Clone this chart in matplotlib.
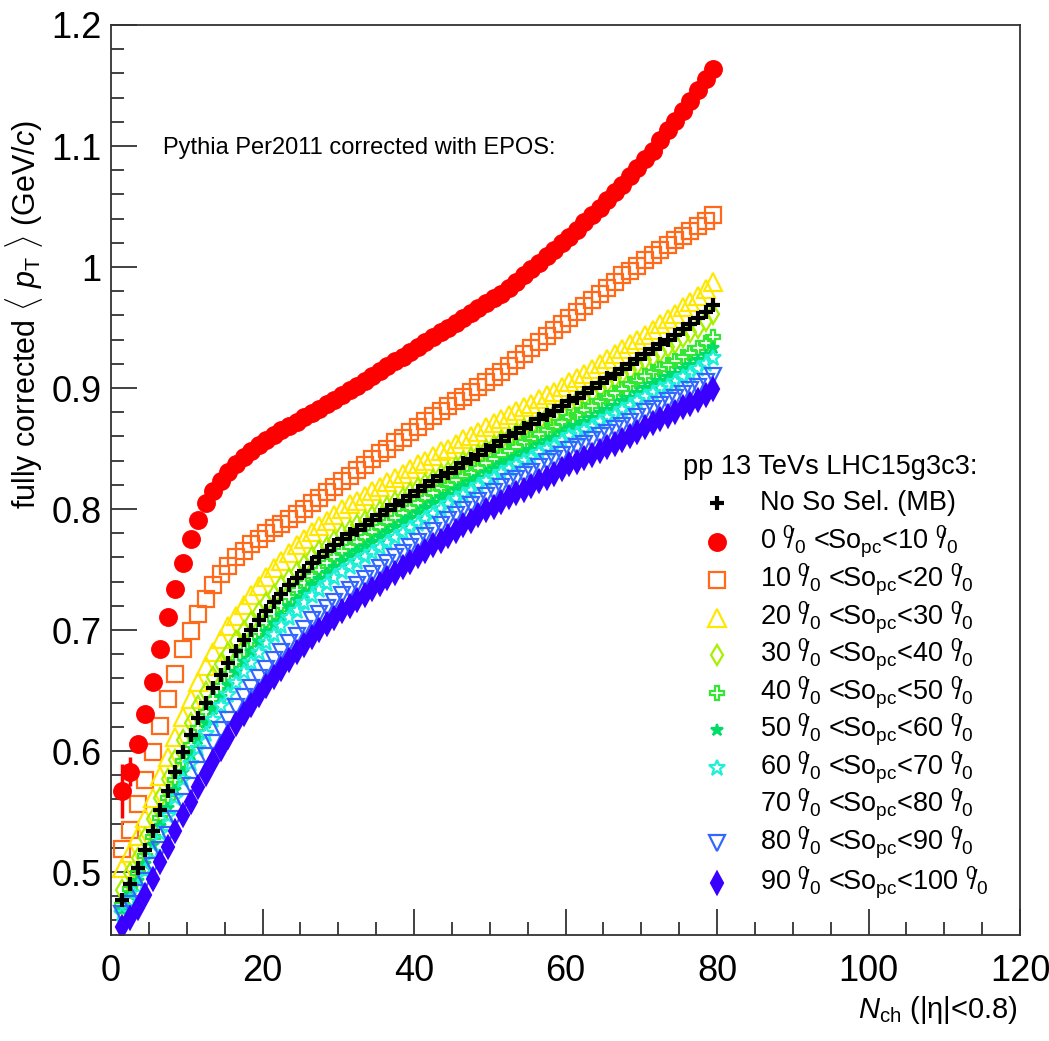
import matplotlib
matplotlib.use("Agg")
import matplotlib.pyplot as plt
from matplotlib.ticker import MultipleLocator
import numpy as np

# bin centres of the multiplicity axis
nch = [1.5 + i for i in range(79)]

mb = [0.477, 0.490, 0.503, 0.518, 0.534, 0.551, 0.567, 0.583, 0.599, 0.613,
      0.627, 0.640, 0.652, 0.663, 0.673, 0.683, 0.692, 0.700, 0.708, 0.716,
      0.723, 0.730, 0.737, 0.743, 0.749, 0.755, 0.760, 0.765, 0.770, 0.775,
      0.779, 0.783, 0.787, 0.791, 0.795, 0.799, 0.803, 0.807, 0.811, 0.815,
      0.819, 0.823, 0.827, 0.830, 0.834, 0.838, 0.841, 0.845, 0.849, 0.852,
      0.856, 0.860, 0.863, 0.867, 0.870, 0.874, 0.878, 0.881, 0.885, 0.889,
      0.892, 0.896, 0.900, 0.904, 0.908, 0.912, 0.916, 0.920, 0.924, 0.928,
      0.932, 0.936, 0.940, 0.944, 0.949, 0.953, 0.958, 0.963, 0.969]

so_0_10 = [0.567, 0.583, 0.606, 0.631, 0.657, 0.684, 0.711, 0.734, 0.755, 0.775,
           0.791, 0.805, 0.815, 0.823, 0.831, 0.837, 0.843, 0.848, 0.853, 0.857,
           0.861, 0.865, 0.869, 0.872, 0.876, 0.879, 0.883, 0.887, 0.890, 0.894,
           0.898, 0.902, 0.906, 0.910, 0.914, 0.918, 0.922, 0.926, 0.930, 0.934,
           0.938, 0.942, 0.946, 0.950, 0.954, 0.958, 0.962, 0.966, 0.970, 0.974,
           0.978, 0.983, 0.988, 0.993, 0.998, 1.003, 1.009, 1.014, 1.020, 1.025,
           1.031, 1.037, 1.043, 1.049, 1.055, 1.062, 1.068, 1.075, 1.082, 1.089,
           1.096, 1.105, 1.113, 1.121, 1.129, 1.137, 1.146, 1.155, 1.164]
so_0_10_err = [0.022, 0.012, 0.006, 0.004, 0.003] + [0.0] * 74

so_10_20 = [0.519, 0.535, 0.556, 0.576, 0.599, 0.621, 0.643, 0.664, 0.684, 0.699,
            0.713, 0.726, 0.737, 0.746, 0.753, 0.760, 0.765, 0.771, 0.775, 0.780,
            0.784, 0.788, 0.792, 0.796, 0.800, 0.805, 0.809, 0.814, 0.818, 0.823,
            0.827, 0.832, 0.836, 0.841, 0.846, 0.850, 0.855, 0.859, 0.864, 0.868,
            0.873, 0.877, 0.881, 0.885, 0.889, 0.893, 0.897, 0.901, 0.905, 0.909,
            0.913, 0.918, 0.923, 0.928, 0.933, 0.938, 0.943, 0.948, 0.953, 0.958,
            0.963, 0.968, 0.973, 0.978, 0.983, 0.988, 0.993, 0.997, 1.001, 1.006,
            1.010, 1.014, 1.018, 1.022, 1.026, 1.030, 1.034, 1.038, 1.043]

so_20_30 = [0.503, 0.516, 0.530, 0.545, 0.561, 0.579, 0.595, 0.612, 0.628, 0.643,
            0.657, 0.670, 0.682, 0.693, 0.703, 0.712, 0.721, 0.729, 0.736, 0.744,
            0.751, 0.757, 0.764, 0.770, 0.775, 0.781, 0.786, 0.790, 0.795, 0.800,
            0.804, 0.807, 0.811, 0.815, 0.818, 0.822, 0.826, 0.829, 0.833, 0.837,
            0.840, 0.844, 0.848, 0.850, 0.854, 0.858, 0.860, 0.864, 0.868, 0.871,
            0.874, 0.878, 0.881, 0.884, 0.887, 0.891, 0.894, 0.897, 0.901, 0.905,
            0.908, 0.912, 0.916, 0.920, 0.924, 0.928, 0.932, 0.936, 0.940, 0.944,
            0.948, 0.953, 0.957, 0.961, 0.967, 0.971, 0.976, 0.982, 0.988]

so_30_40 = [0.485, 0.499, 0.512, 0.528, 0.544, 0.561, 0.577, 0.593, 0.609, 0.623,
            0.637, 0.649, 0.661, 0.672, 0.681, 0.691, 0.699, 0.707, 0.715, 0.722,
            0.729, 0.736, 0.742, 0.748, 0.754, 0.760, 0.765, 0.769, 0.774, 0.779,
            0.783, 0.787, 0.790, 0.794, 0.798, 0.802, 0.806, 0.809, 0.813, 0.817,
            0.821, 0.824, 0.828, 0.831, 0.835, 0.839, 0.842, 0.845, 0.849, 0.852,
            0.856, 0.859, 0.862, 0.866, 0.868, 0.872, 0.876, 0.878, 0.882, 0.886,
            0.889, 0.893, 0.896, 0.900, 0.904, 0.908, 0.912, 0.915, 0.919, 0.923,
            0.926, 0.930, 0.934, 0.937, 0.942, 0.946, 0.950, 0.955, 0.961]

so_40_50 = [0.473, 0.486, 0.499, 0.513, 0.529, 0.545, 0.561, 0.576, 0.592, 0.605,
            0.619, 0.632, 0.643, 0.654, 0.664, 0.674, 0.683, 0.691, 0.698, 0.706,
            0.713, 0.720, 0.727, 0.733, 0.739, 0.745, 0.750, 0.755, 0.760, 0.765,
            0.769, 0.773, 0.777, 0.781, 0.785, 0.789, 0.793, 0.797, 0.801, 0.805,
            0.809, 0.813, 0.817, 0.820, 0.824, 0.827, 0.830, 0.834, 0.838, 0.841,
            0.845, 0.848, 0.851, 0.855, 0.858, 0.862, 0.865, 0.868, 0.872, 0.876,
            0.878, 0.882, 0.885, 0.889, 0.892, 0.896, 0.899, 0.903, 0.906, 0.910,
            0.913, 0.916, 0.919, 0.922, 0.926, 0.929, 0.933, 0.937, 0.942]

so_50_60 = [0.469, 0.481, 0.493, 0.507, 0.522, 0.538, 0.553, 0.568, 0.583, 0.597,
            0.610, 0.623, 0.635, 0.645, 0.655, 0.665, 0.674, 0.682, 0.690, 0.698,
            0.705, 0.712, 0.719, 0.725, 0.731, 0.737, 0.742, 0.747, 0.752, 0.757,
            0.761, 0.765, 0.769, 0.773, 0.777, 0.781, 0.785, 0.789, 0.793, 0.797,
            0.801, 0.805, 0.809, 0.812, 0.816, 0.819, 0.822, 0.826, 0.830, 0.833,
            0.837, 0.840, 0.843, 0.846, 0.849, 0.853, 0.856, 0.859, 0.863, 0.867,
            0.869, 0.872, 0.875, 0.879, 0.882, 0.885, 0.889, 0.892, 0.896, 0.900,
            0.903, 0.906, 0.909, 0.912, 0.916, 0.919, 0.923, 0.927, 0.933]

so_60_70 = [0.465, 0.476, 0.488, 0.501, 0.516, 0.532, 0.546, 0.561, 0.576, 0.589,
            0.602, 0.614, 0.626, 0.637, 0.646, 0.656, 0.665, 0.673, 0.681, 0.689,
            0.696, 0.703, 0.710, 0.716, 0.722, 0.728, 0.733, 0.738, 0.743, 0.748,
            0.752, 0.756, 0.760, 0.764, 0.768, 0.772, 0.776, 0.780, 0.784, 0.788,
            0.792, 0.796, 0.800, 0.804, 0.808, 0.812, 0.815, 0.819, 0.823, 0.826,
            0.830, 0.833, 0.836, 0.840, 0.842, 0.846, 0.850, 0.852, 0.856, 0.860,
            0.862, 0.865, 0.868, 0.872, 0.875, 0.878, 0.882, 0.885, 0.889, 0.893,
            0.896, 0.899, 0.902, 0.905, 0.909, 0.912, 0.916, 0.920, 0.925]

so_70_80 = [0.463, 0.473, 0.484, 0.496, 0.510, 0.525, 0.539, 0.553, 0.567, 0.580,
            0.593, 0.605, 0.617, 0.627, 0.636, 0.646, 0.655, 0.663, 0.671, 0.679,
            0.686, 0.693, 0.700, 0.706, 0.712, 0.718, 0.723, 0.728, 0.733, 0.738,
            0.742, 0.746, 0.750, 0.754, 0.758, 0.762, 0.766, 0.770, 0.774, 0.778,
            0.782, 0.786, 0.791, 0.795, 0.799, 0.804, 0.807, 0.811, 0.815, 0.819,
            0.823, 0.827, 0.830, 0.833, 0.836, 0.840, 0.844, 0.846, 0.850, 0.854,
            0.857, 0.860, 0.863, 0.866, 0.869, 0.872, 0.876, 0.879, 0.883, 0.887,
            0.890, 0.893, 0.896, 0.899, 0.902, 0.905, 0.909, 0.913, 0.917]

so_80_90 = [0.465, 0.474, 0.483, 0.493, 0.505, 0.518, 0.531, 0.544, 0.558, 0.571,
            0.584, 0.596, 0.607, 0.617, 0.626, 0.636, 0.645, 0.652, 0.660, 0.668,
            0.675, 0.682, 0.689, 0.695, 0.701, 0.708, 0.713, 0.718, 0.723, 0.729,
            0.733, 0.737, 0.742, 0.746, 0.751, 0.755, 0.760, 0.764, 0.769, 0.773,
            0.778, 0.782, 0.787, 0.791, 0.795, 0.799, 0.803, 0.807, 0.811, 0.814,
            0.818, 0.822, 0.825, 0.828, 0.831, 0.835, 0.839, 0.841, 0.845, 0.849,
            0.851, 0.854, 0.857, 0.860, 0.863, 0.866, 0.869, 0.872, 0.876, 0.880,
            0.883, 0.886, 0.889, 0.892, 0.895, 0.898, 0.901, 0.905, 0.910]

so_90_100 = [0.455, 0.462, 0.470, 0.481, 0.494, 0.508, 0.521, 0.534, 0.547, 0.558,
             0.570, 0.581, 0.592, 0.602, 0.612, 0.622, 0.631, 0.638, 0.646, 0.654,
             0.661, 0.668, 0.675, 0.682, 0.688, 0.694, 0.700, 0.705, 0.710, 0.716,
             0.720, 0.725, 0.729, 0.734, 0.738, 0.743, 0.747, 0.752, 0.756, 0.761,
             0.765, 0.770, 0.774, 0.778, 0.782, 0.787, 0.790, 0.795, 0.799, 0.802,
             0.806, 0.810, 0.813, 0.816, 0.819, 0.823, 0.826, 0.829, 0.833, 0.837,
             0.839, 0.842, 0.845, 0.848, 0.851, 0.854, 0.857, 0.860, 0.864, 0.868,
             0.871, 0.874, 0.877, 0.880, 0.884, 0.887, 0.890, 0.894, 0.899]

plt.rcParams["font.family"] = ["Liberation Sans", "DejaVu Sans"]
plt.rcParams["mathtext.fontset"] = "custom"
plt.rcParams["mathtext.rm"] = "Liberation Sans"
plt.rcParams["mathtext.it"] = "Liberation Sans:italic"
plt.rcParams["mathtext.bf"] = "Liberation Sans:bold"

W, H = 1049, 1041
fig = plt.figure(figsize=(W / 100, H / 100), dpi=100)
AX_L, AX_R, AX_T, AX_B = 111, 1020, 25, 935
ax = fig.add_axes([AX_L / W, 1 - AX_B / H, (AX_R - AX_L) / W, (AX_B - AX_T) / H])


def ax_frac(px, py):
    """pixel position (from top-left) -> axes fraction"""
    return (px - AX_L) / (AX_R - AX_L), (AX_B - py) / (AX_B - AX_T)


x = np.array(nch)
pct = r"$^{0}\!\!/_{0}$"


def label(lo, hi):
    return f"{lo} {pct} <So$_{{\\rm pc}}$<{hi} {pct}"


# (values, label, marker, colour, filled, size)
series = [
    (so_0_10, label(0, 10), "o", "#ff0000", True, 12),
    (so_10_20, label(10, 20), "s", "#ff6a1a", False, 12),
    (so_20_30, label(20, 30), "^", "#ffe800", False, 13),
    (so_30_40, label(30, 40), "d", "#a6f000", False, 10),
    (so_40_50, label(40, 50), "P", "#33e633", False, 10),
    (so_50_60, label(50, 60), "*", "#00dd66", True, 9),
    (so_60_70, label(60, 70), "*", "#1ef0d8", False, 12),
    (so_70_80, label(70, 80), "o", "#ffffff", True, 0),
    (so_80_90, label(80, 90), "v", "#3366ff", False, 12),
    (so_90_100, label(90, 100), "d", "#3a00ff", True, 11),
]

mb_style = dict(ls="none", marker="+", color="black", markersize=10,
                markeredgewidth=3)
legend_rows = [(mb_style, "No So Sel. (MB)")]

for vals, lab, mk, col, filled, ms in series:
    kw = dict(ls="none", marker=mk, markersize=ms, markeredgecolor=col,
              markeredgewidth=1.6)
    kw["markerfacecolor"] = col if filled else "none"
    if vals is so_0_10:
        ax.errorbar(x, vals, yerr=so_0_10_err, ecolor=col, elinewidth=2.5,
                    capsize=0, **kw)
    elif ms > 0:
        ax.plot(x, vals, **kw)
    else:
        # white markers: present but not visible on the white pad
        ax.plot(x, vals, ls="none", marker="o", markersize=1, color=col,
                zorder=0.5)
    legend_rows.append((kw, lab))

ax.plot(x, mb, **mb_style)

ax.set_xlim(0, 120)
ax.set_ylim(0.448, 1.2)
ax.xaxis.set_major_locator(MultipleLocator(20))
ax.xaxis.set_minor_locator(MultipleLocator(5))
ax.yaxis.set_minor_locator(MultipleLocator(0.02))
ax.set_yticks([0.5, 0.6, 0.7, 0.8, 0.9, 1.0, 1.1, 1.2])
ax.set_yticklabels(["0.5", "0.6", "0.7", "0.8", "0.9", "1", "1.1", "1.2"])
ax.tick_params(which="both", direction="in", top=False, right=False,
               width=1.3, colors="#333333", labelcolor="black")
ax.tick_params(which="major", length=19, labelsize=26, pad=7)
ax.tick_params(which="minor", length=9.5)
ax.tick_params(axis="x", which="major", pad=14)
for sp in ax.spines.values():
    sp.set_linewidth(1.3)
    sp.set_color("#333333")

fig.text(24 / W, 1 - 315 / H,
         r"fully corrected $\langle$ $p_{\rm T}$ $\rangle$ (GeV/$c$)",
         rotation=90, ha="center", va="center", fontsize=22)
fig.text(1018 / W, 1 - 1010 / H, r"$N_{\rm ch}$ (|η|<0.8)",
         ha="right", va="center", fontsize=21)

ax.text(*ax_frac(163, 148), "Pythia Per2011 corrected with EPOS:",
        transform=ax.transAxes, fontsize=17, ha="left", va="center")

# legend block
ax.text(*ax_frac(683, 467), "pp 13 TeVs LHC15g3c3:", transform=ax.transAxes,
        fontsize=19.5, ha="left", va="center")
row_y = [503, 542, 580, 618, 655, 693, 730, 768, 805, 843, 883]
for (kw, lab), py in zip(legend_rows, row_y):
    if kw.get("markersize", 0) > 0:
        mx, my = ax_frac(717, py)
        ax.plot([mx], [my], transform=ax.transAxes, clip_on=False, **kw)
    tx, ty = ax_frac(760, py)
    ax.text(tx, ty, lab, transform=ax.transAxes, fontsize=19.5,
            ha="left", va="center")

fig.savefig("out.png", dpi=100)
